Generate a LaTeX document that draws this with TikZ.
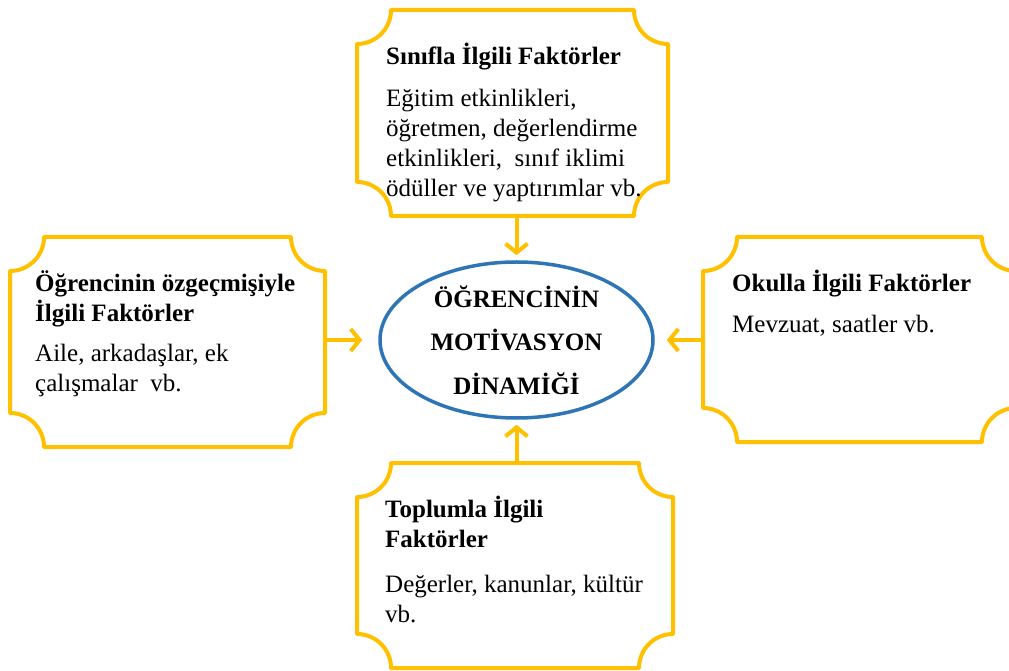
\documentclass[tikz,border=0pt]{standalone}
\usepackage{fontspec}
\setmainfont{Liberation Serif}
\usepackage{tikz}
\usetikzlibrary{arrows.meta,positioning,calc,shapes.geometric}
\definecolor{motivblue}{RGB}{46,117,182}
\definecolor{motivgold}{RGB}{255,192,0}
\def\plaquer{34pt}
\tikzset{
  plaquebox/.style={draw=none, inner sep=0pt, outer sep=0pt},
  plaqueline/.style={draw=motivgold, line width=4pt, line join=round},
  factortext/.style={anchor=north west, inner sep=0pt, align=left,
    font=\fontsize{25}{30}\selectfont},
  motivnode/.style={ellipse, draw=motivblue, line width=3.5pt, inner sep=0pt,
    minimum width=273pt, minimum height=156pt, align=center,
    font=\fontsize{25}{30}\selectfont\bfseries},
  goldarr/.style={-{Straight Barb[length=9pt,width=22pt]}, line width=4pt, motivgold}
}
\newcommand{\plaqueframe}[1]{%
  \draw[plaqueline]
    ([xshift=\plaquer]#1.north west) -- ([xshift=-\plaquer]#1.north east)
    arc[start angle=180,end angle=270,radius=\plaquer]
    -- ([yshift=\plaquer]#1.south east)
    arc[start angle=90,end angle=180,radius=\plaquer]
    -- ([xshift=\plaquer]#1.south west)
    arc[start angle=0,end angle=90,radius=\plaquer]
    -- ([yshift=-\plaquer]#1.north west)
    arc[start angle=270,end angle=360,radius=\plaquer]
    -- cycle;}
\begin{document}
\begin{tikzpicture}[x=1pt,y=1pt]
  \useasboundingbox[fill=white] (0,0) rectangle (1009,670);
  \node[plaquebox,minimum width=311pt,minimum height=206pt] (sinif) at (512.5,557) {};
  \node[plaquebox,minimum width=315pt,minimum height=210pt] (ozgecmis) at (167.5,328) {};
  \node[plaquebox,minimum width=313pt,minimum height=205pt] (okul) at (859.5,330.5) {};
  \node[plaquebox,minimum width=316pt,minimum height=205pt] (toplum) at (515,104.5) {};
  \plaqueframe{sinif}
  \plaqueframe{ozgecmis}
  \plaqueframe{okul}
  \plaqueframe{toplum}
  \node[factortext] (sinifmetin) at ([xshift=29pt,yshift=-33pt]sinif.north west)
    {\textbf{Sınıfla İlgili Faktörler}\\[12pt]Eğitim etkinlikleri,\\öğretmen, değerlendirme\\etkinlikleri, \ sınıf iklimi\\ödüller ve yaptırımlar vb.};
  \node[factortext] (ozgecmismetin) at ([xshift=25pt,yshift=-33pt]ozgecmis.north west)
    {\textbf{Öğrencinin özgeçmişiyle}\\\textbf{İlgili Faktörler}\\[10pt]Aile, arkadaşlar, ek\\çalışmalar \ vb.};
  \node[factortext] (okulmetin) at ([xshift=29pt,yshift=-33pt]okul.north west)
    {\textbf{Okulla İlgili Faktörler}\\[11pt]Mevzuat, saatler vb.};
  \node[factortext] (toplummetin) at ([xshift=28pt,yshift=-33pt]toplum.north west)
    {\textbf{Toplumla İlgili}\\\textbf{Faktörler}\\[15pt]Değerler, kanunlar, kültür\\vb.};
  \node[motivnode] (motiv) at (516.5,330)
    {ÖĞRENCİNİN\\[13.5pt]MOTİVASYON\\[13.5pt]DİNAMİĞİ};
  \draw[goldarr,shorten >=5pt] (sinif.south -| motiv.north) -- (motiv.north);
  \draw[goldarr,shorten >=5pt] (toplum.north -| motiv.south) -- (motiv.south);
  \draw[goldarr,shorten >=16pt] (ozgecmis.east |- motiv.west) -- (motiv.west);
  \draw[goldarr,shorten >=12pt] (okul.west |- motiv.east) -- (motiv.east);
\end{tikzpicture}
\end{document}
